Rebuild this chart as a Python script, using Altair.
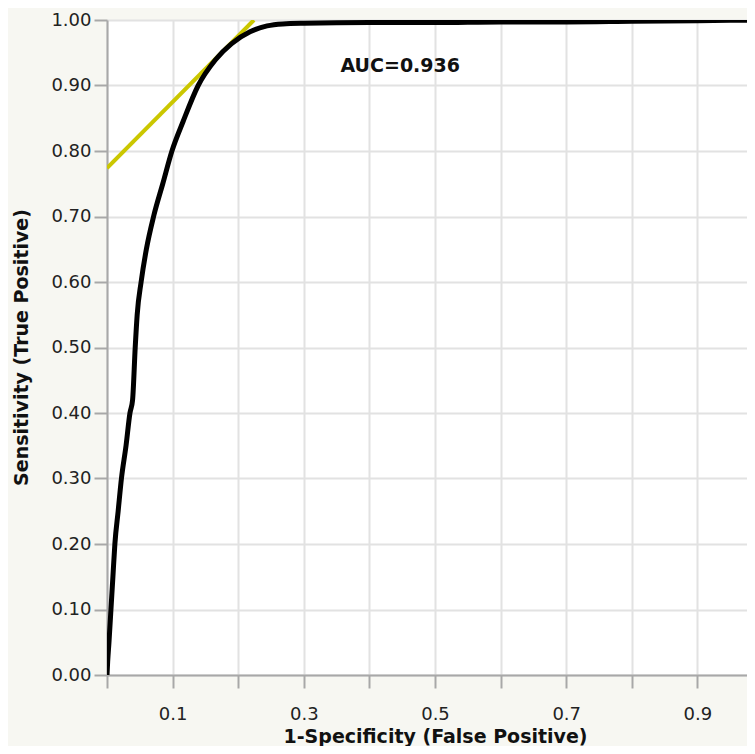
import altair as alt
import pandas as pd

# ROC curve
fpr = [0.0, 0.001, 0.003, 0.006, 0.009, 0.012, 0.017, 0.022, 0.029, 0.035, 0.039,
       0.043, 0.046, 0.052, 0.060, 0.071, 0.085, 0.099, 0.116, 0.139,
       0.165, 0.190, 0.218, 0.244, 0.268, 0.30, 0.40, 0.50, 0.60, 0.70, 0.80, 0.90, 1.0]
tpr = [0.0, 0.02, 0.05, 0.10, 0.15, 0.20, 0.25, 0.30, 0.35, 0.40, 0.42,
       0.50, 0.55, 0.60, 0.65, 0.70, 0.75, 0.80, 0.845, 0.90,
       0.939, 0.964, 0.982, 0.991, 0.994, 0.995, 0.996, 0.996, 0.997, 0.997, 0.998, 0.999, 1.0]

# tangent (Youden) line
tangent_fpr = [0.0, 0.224]
tangent_tpr = [0.774, 1.0]

auc_label = ["AUC=0.936"]
auc_x = [0.447]
auc_y = [0.93]

x_ticks = [round(i * 0.05, 2) for i in range(20)]
y_ticks = [round(i * 0.05, 2) for i in range(21)]

roc_df = pd.DataFrame({"fpr": fpr, "tpr": tpr, "order": list(range(len(fpr)))})
tan_df = pd.DataFrame({"fpr": tangent_fpr, "tpr": tangent_tpr})
auc_df = pd.DataFrame({"label": auc_label, "x": auc_x, "y": auc_y})

FONT = "DejaVu Sans"
minor_test = "round(datum.value * 20) % 2 == 1"

PLOT_W = 640
PLOT_H = 655

x_scale = alt.Scale(domain=[0, 0.9756], nice=False, zero=False)
y_scale = alt.Scale(domain=[0, 1], nice=False)

x_axis = alt.Axis(
    values=x_ticks,
    labelExpr="round(datum.value * 20) % 4 == 2 ? format(datum.value, '.1f') : ''",
    tickSize={"condition": {"test": minor_test, "value": 7}, "value": 13},
    gridOpacity={"condition": {"test": minor_test, "value": 0}, "value": 1},
    labelFlush=False,
    labelPadding=17,
    labelFontSize=18,
    labelFont=FONT,
    labelColor="#222222",
    title="1-Specificity (False Positive)",
    titleFont=FONT,
    titleFontSize=19,
    titleFontWeight="bold",
    titleColor="#111111",
    titleX=328,
    titleY=61,
    titleAlign="center",
    titleBaseline="middle",
)

y_axis = alt.Axis(
    values=y_ticks,
    labelExpr="round(datum.value * 20) % 2 == 0 ? format(datum.value, '.2f') : ''",
    tickSize={"condition": {"test": minor_test, "value": 7}, "value": 13},
    gridOpacity={"condition": {"test": minor_test, "value": 0}, "value": 1},
    labelPadding=3,
    labelFontSize=18,
    labelFont=FONT,
    labelColor="#222222",
    title="Sensitivity (True Positive)",
    titleFont=FONT,
    titleFontSize=19,
    titleFontWeight="bold",
    titleColor="#111111",
    titleX=-86,
    titleY=327,
    titleAlign="center",
    titleBaseline="middle",
    titleAngle=270,
)

base_x = alt.X("fpr:Q", scale=x_scale, axis=x_axis)
base_y = alt.Y("tpr:Q", scale=y_scale, axis=y_axis)

tangent = alt.Chart(tan_df).mark_line(color="#cbc700", strokeWidth=4, clip=True).encode(
    x=base_x, y=base_y
)

roc = alt.Chart(roc_df).mark_line(
    color="#000000", strokeWidth=5, clip=True, interpolate="monotone", strokeCap="round"
).encode(x=alt.X("fpr:Q", scale=x_scale), y=alt.Y("tpr:Q", scale=y_scale), order="order:Q")

auc = alt.Chart(auc_df).mark_text(
    font=FONT, fontSize=19, fontWeight="bold", color="#111111", align="center", baseline="middle"
).encode(x=alt.X("x:Q", scale=x_scale), y=alt.Y("y:Q", scale=y_scale), text="label:N")

chart = alt.layer(tangent, roc, auc).properties(
    width=PLOT_W,
    height=PLOT_H,
    autosize=alt.AutoSizeParams(type="none"),
    padding={"left": 99, "top": 12, "right": 0, "bottom": 71},
    background="#f7f7f2",
).configure_view(
    fill="#ffffff", stroke=None
).configure_axis(
    domainColor="#a8a8a8",
    domainWidth=2,
    tickColor="#a8a8a8",
    tickWidth=2,
    gridColor="#e2e2e2",
    gridWidth=2,
)

chart.save("out.html", embed_options={"renderer": "svg", "actions": False})
